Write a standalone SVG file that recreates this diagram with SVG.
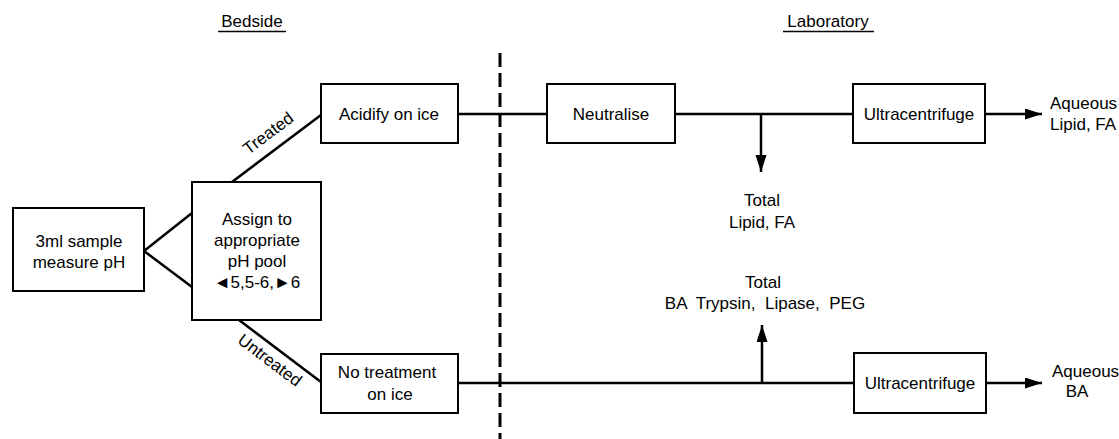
<svg xmlns="http://www.w3.org/2000/svg" width="1119" height="439" viewBox="0 0 1119 439">
<style>
text{font-family:"Liberation Sans",Arial,sans-serif;font-size:17px;fill:#000}
.c{text-anchor:middle}
.box{fill:#fff;stroke:#000;stroke-width:2}
.ln{stroke:#000;stroke-width:2.5;fill:none}
.ar{stroke:#000;stroke-width:2.5;fill:none;marker-end:url(#ah)}
.dash{stroke:#000;stroke-width:3;stroke-dasharray:14 6;fill:none}
.ul{stroke:#000;stroke-width:1.5}
</style>
<defs>
<marker id="ah" markerUnits="userSpaceOnUse" markerWidth="18" markerHeight="12" refX="17" refY="5.5" orient="auto">
<path d="M0,0 L17,5.5 L0,11 Z" fill="#000"/>
</marker>
</defs>
<rect width="1119" height="439" fill="#fff"/>
<g id="titles">
<text x="252" y="27" class="c">Bedside</text>
<line class="ul" x1="218" y1="31.5" x2="286" y2="31.5"/>
<text x="828" y="27" class="c">Laboratory</text>
<line class="ul" x1="783" y1="31.5" x2="874" y2="31.5"/>
</g>
<g id="divider">
<line class="dash" x1="500" y1="53" x2="500" y2="439"/>
</g>
<g id="connectors">
<line class="ln" x1="144" y1="251" x2="192" y2="213"/>
<line class="ln" x1="144" y1="251" x2="192" y2="287"/>
<line class="ln" x1="232" y1="182" x2="321" y2="115"/>
<line class="ln" x1="239" y1="320" x2="321" y2="382"/>
<line class="ln" x1="458" y1="114" x2="547" y2="114"/>
<line class="ln" x1="675" y1="114" x2="853" y2="114"/>
<line class="ln" x1="458" y1="383" x2="854" y2="383"/>
<line class="ar" x1="761" y1="114" x2="761" y2="172"/>
<line class="ar" x1="762" y1="383" x2="762" y2="325"/>
<line class="ar" x1="985" y1="114" x2="1042" y2="114"/>
<line class="ar" x1="986" y1="383" x2="1042" y2="383"/>
<text transform="translate(268,133) rotate(-37)" x="0" y="6" class="c">Treated</text>
<text transform="translate(270,360) rotate(37)" x="0" y="6" class="c">Untreated</text>
</g>
<g id="sample">
<rect class="box" x="13" y="208" width="131" height="83"/>
<text x="79" y="247" class="c">3ml sample</text>
<text x="79" y="268" class="c">measure pH</text>
</g>
<g id="assign">
<rect class="box" x="192" y="182" width="129" height="138"/>
<text x="257" y="225" class="c">Assign to</text>
<text x="257" y="246" class="c">appropriate</text>
<text x="257" y="267" class="c">pH pool</text>
<text x="257" y="288" class="c">◄5,5-6,►6</text>
</g>
<g id="acidify">
<rect class="box" x="321" y="84" width="137" height="59"/>
<text x="389" y="120" class="c">Acidify on ice</text>
</g>
<g id="notreatment">
<rect class="box" x="321" y="354" width="137" height="59"/>
<text x="387" y="378" class="c">No treatment</text>
<text x="390" y="400" class="c">on ice</text>
</g>
<g id="neutralise">
<rect class="box" x="547" y="84" width="128" height="59"/>
<text x="611" y="120" class="c">Neutralise</text>
</g>
<g id="ultra1">
<rect class="box" x="853" y="84" width="132" height="59"/>
<text x="919" y="120" class="c">Ultracentrifuge</text>
</g>
<g id="ultra2">
<rect class="box" x="854" y="353" width="132" height="60"/>
<text x="920" y="389" class="c">Ultracentrifuge</text>
</g>
<g id="totalLipid">
<text x="762" y="206" class="c">Total</text>
<text x="762" y="228" class="c">Lipid, FA</text>
</g>
<g id="totalBA">
<text x="763" y="288" class="c">Total</text>
<text x="765" y="309" class="c" xml:space="preserve">BA  Trypsin,  Lipase,  PEG</text>
</g>
<g id="aqueousLipid">
<text x="1050" y="109">Aqueous</text>
<text x="1050" y="130">Lipid, FA</text>
</g>
<g id="aqueousBA">
<text x="1052" y="377">Aqueous</text>
<text x="1077" y="397" class="c">BA</text>
</g>
</svg>
